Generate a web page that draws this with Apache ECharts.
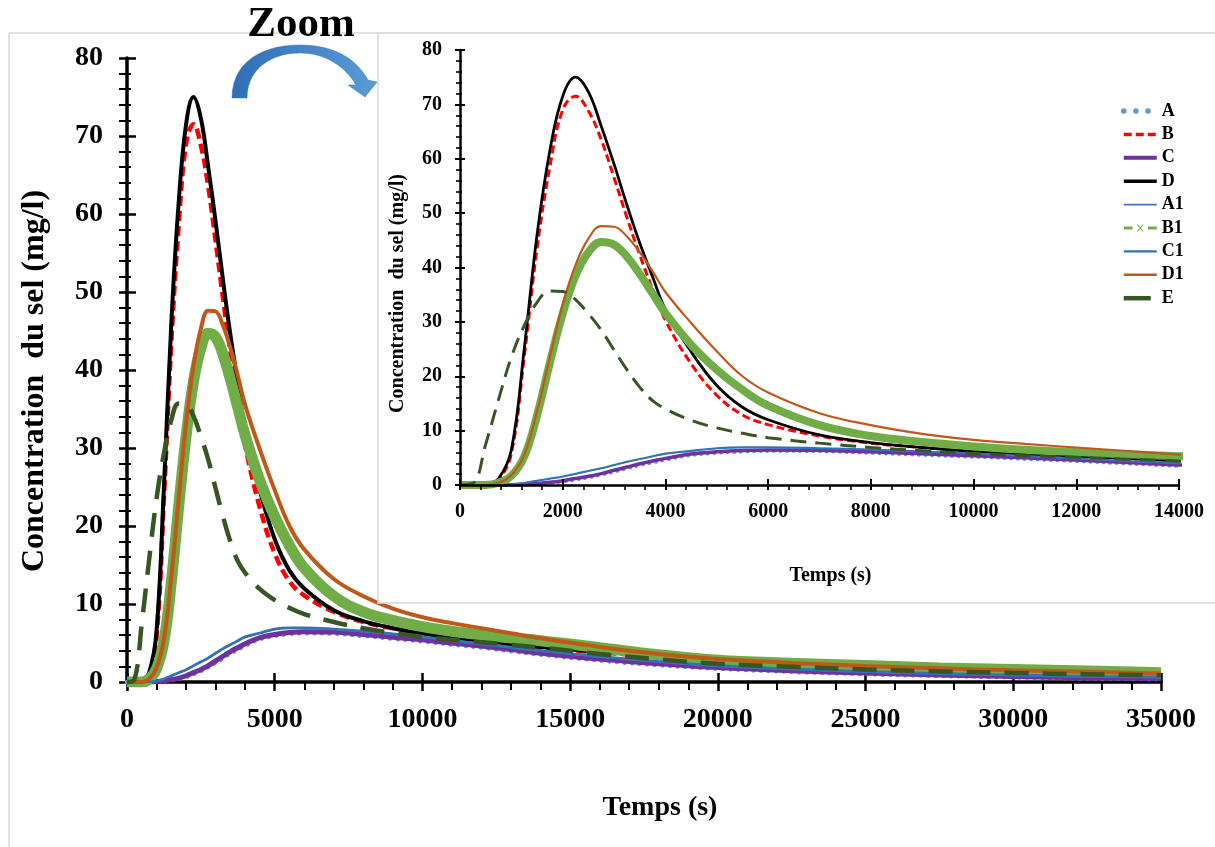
<!DOCTYPE html>
<html><head><meta charset="utf-8">
<script src="https://cdn.jsdelivr.net/npm/echarts@6/dist/echarts.min.js"></script>
<style>html,body{margin:0;padding:0;background:#fff}#c{width:1215px;height:847px}</style>
</head><body><div id="c"></div>
<script>
// ---- data ----
const time = [0,250,500,750,1000,1250,1500,1750,2000,2250,2500,2750,3000,3250,3500,3750,4000,4500,5000,5500,6000,7000,8000,9000,10000,11000,12000,13000,14000,16000,18000,20000,22500,25000,27500,30000,32500,35000];
const serieA  = [0,0,0,0,0.03,0.1,0.22,0.4,0.65,1.0,1.4,1.9,2.45,3.05,3.65,4.15,4.65,5.5,5.9,6.15,6.25,6.2,5.9,5.55,5.2,4.8,4.4,3.95,3.5,2.75,2.15,1.7,1.3,1.0,0.78,0.6,0.45,0.35];
const serieB  = [0,0,0.1,1.0,5.8,23.5,43.5,58.5,69,71.5,68.8,63.5,56.5,49.2,42.3,36,30.3,22.3,16.5,12.9,11.1,9.0,7.7,6.9,6.3,5.8,5.35,4.85,4.4,3.8,3.25,2.7,2.2,1.8,1.45,1.2,1.0,0.85];
const serieC  = [0,0,0,0,0.05,0.15,0.3,0.5,0.8,1.2,1.6,2.1,2.7,3.3,3.9,4.4,4.9,5.7,6.1,6.35,6.45,6.4,6.1,5.75,5.4,5.0,4.6,4.15,3.7,2.95,2.35,1.85,1.45,1.15,0.9,0.7,0.55,0.45];
const serieD  = [0,0,0.1,1.2,6.5,25,46,61.5,71.5,75,72.3,66,59,51.5,44.5,38.3,32.3,24.5,18.3,14.3,12.0,9.2,7.8,6.9,6.2,5.7,5.3,4.9,4.5,3.9,3.3,2.75,2.25,1.85,1.5,1.25,1.05,0.9];
const serieA1 = [0,0,0,0.02,0.1,0.35,0.75,1.1,1.5,2.0,2.5,3.0,3.6,4.2,4.7,5.2,5.7,6.2,6.7,6.85,6.85,6.7,6.45,6.1,5.7,5.25,4.8,4.35,3.95,3.2,2.55,2.0,1.6,1.25,1.0,0.8,0.65,0.55];
const serieB1 = [0,0,0,0.4,1.7,5.2,12.8,22.5,31.5,38.5,42.8,44.7,44.2,42,38.8,35.2,31.6,25.8,21.2,17.5,14.6,11.0,9.0,7.9,7.1,6.5,6.05,5.65,5.3,4.4,3.5,2.8,2.4,2.1,1.8,1.6,1.4,1.2];
const serieC1 = [0,0,0,0.02,0.1,0.4,0.8,1.2,1.6,2.1,2.6,3.1,3.7,4.3,4.8,5.3,5.8,6.3,6.8,6.95,6.95,6.8,6.55,6.2,5.8,5.35,4.9,4.45,4.05,3.3,2.65,2.1,1.7,1.35,1.1,0.9,0.75,0.65];
const serieD1 = [0,0,0,0.4,1.8,5.5,13.5,23.5,33.2,40.5,45.3,47.6,47.5,45.7,42.8,39.3,35.5,29.8,24.6,20.0,17.0,13.2,11.0,9.4,8.3,7.55,6.9,6.25,5.6,4.5,3.6,2.95,2.45,2.05,1.75,1.5,1.3,1.1];
const serieE  = [0,0.3,7.5,15.7,23.5,29.3,33.6,35.7,35.6,34.1,31.5,28.5,24.8,21.2,18.0,15.5,14.0,11.9,10.5,9.5,8.7,7.7,6.9,6.3,5.8,5.4,5.1,4.75,4.4,3.6,2.9,2.35,1.95,1.6,1.35,1.15,1.0,0.85];
const seriesNames = ['A','B','C','D','A1','B1','C1','D1','E'];
const seriesValues = [serieA, serieB, serieC, serieD, serieA1, serieB1, serieC1, serieD1, serieE];
const yTitle = 'Concentration  du sel (mg/l)';
const xTitle = 'Temps (s)';

// ---- styles ----
const SERIF = '"Liberation Serif", "Times New Roman", serif';
const colors = {A:'#5B9BD5',B:'#FF0000',C:'#7030A0',D:'#000000',A1:'#4472C4',B1:'#70AD47',C1:'#2E75B6',D1:'#C0581A',E:'#375623'};
const insetStyle = {
  A:{width:4,type:[0.1,6.5],cap:'round'}, B:{width:3,type:[8,4]}, C:{width:3.5}, D:{width:2.8},
  A1:{width:1.3}, B1:{width:8}, C1:{width:1.8}, D1:{width:2.2}, E:{width:3,type:[16,9]}
};
const mainStyle = {
  A:{width:4.5,type:[0.1,7.5],cap:'round'}, B:{width:4.5,type:[10,5]}, C:{width:5}, D:{width:4},
  A1:{width:1.5}, B1:{width:11}, C1:{width:2.5}, D1:{width:4}, E:{width:4.5,type:[24,14]}
};
const legendLine = {
  A:{width:5.5,type:[0.1,12],cap:'round'}, B:{width:3.5,type:[8,4]}, C:{width:4}, D:{width:3.5},
  A1:{width:1.8}, C1:{width:2.2}, D1:{width:2.5}, E:{width:4.5,type:[27,7]}
};
const pairs = arr => time.map((t,i)=>[t, arr[i]]);

function makeSeries(idx, styles, z){
  return seriesNames.map((n,i)=>({
    name:n, type:'line', xAxisIndex:idx, yAxisIndex:idx, z:z,
    data:pairs(seriesValues[i]), showSymbol:false, symbol:'none',
    smooth:0.4, animation:false, silent:true,
    lineStyle:Object.assign({color:colors[n]}, styles[n]),
    itemStyle:{color:colors[n]}
  }));
}

const boldText = (size)=>({fontFamily:SERIF,fontWeight:'bold',fontSize:size,color:'#000'});

function axisPair(kind, grid, min, max, interval, o){
  const main = {
    type:'value', gridIndex:grid, min:min, max:max, interval:interval, z:o.z,
    axisLine:{show:true,onZero:false,lineStyle:{color:'#000',width:o.lw}},
    axisTick:{show:true,inside:false,length:o.tOut,lineStyle:{color:'#000',width:o.tw}},
    minorTick:{show:true,splitNumber:5,length:o.mOut,lineStyle:{color:'#000',width:o.tw*0.8}},
    splitLine:{show:false},
    axisLabel:Object.assign({margin:o.margin, formatter:v=>String(v)}, boldText(o.fs)),
    name:o.name, nameLocation:'middle', nameGap:o.nameGap,
    nameTextStyle:Object.assign({padding:o.namePad}, boldText(o.nfs))
  };
  const dup = {
    type:'value', gridIndex:grid, min:min, max:max, interval:interval, z:o.z,
    axisLine:{show:false,onZero:false},
    axisTick:{show:true,inside:true,length:o.tIn,lineStyle:{color:'#000',width:o.tw}},
    minorTick:{show:o.mIn>0,splitNumber:5,length:o.mIn,lineStyle:{color:'#000',width:o.tw*0.8}},
    splitLine:{show:false}, axisLabel:{show:false}
  };
  if(kind==='x'){ main.position='bottom'; dup.position='bottom'; }
  else { main.position='left'; dup.position='left'; }
  return [main, dup];
}

const xAxes = [].concat(
  axisPair('x',0,0,35000,5000,{z:1,lw:3.5,tw:2.5,tOut:9,mOut:8,tIn:9,mIn:0,margin:24,fs:28,name:xTitle,nameGap:112,namePad:[0,0,0,32],nfs:28}),
  axisPair('x',1,0,14000,2000,{z:6,lw:2.5,tw:2,tOut:5,mOut:5,tIn:6,mIn:0,margin:17,fs:20,name:xTitle,nameGap:81,namePad:[0,0,0,22],nfs:20})
);
const yAxes = [].concat(
  axisPair('y',0,0,80,10,{z:1,lw:3.5,tw:2.5,tOut:8,mOut:8,tIn:9,mIn:4,margin:24,fs:28,name:yTitle,nameGap:76,namePad:[0,22,0,0],nfs:32}),
  axisPair('y',1,0,80,10,{z:6,lw:2.5,tw:2,tOut:5,mOut:4,tIn:5,mIn:2,margin:18,fs:20,name:yTitle,nameGap:52,namePad:[0,52,0,0],nfs:20})
);
const series = [].concat(makeSeries(2, insetStyle, 5), makeSeries(0, mainStyle, 2));
series.push({type:'line',xAxisIndex:1,yAxisIndex:1,data:[],silent:true});
series.push({type:'line',xAxisIndex:3,yAxisIndex:3,data:[],silent:true});

const b1Icon = 'path://M0,5.5L9,5.5L9,8.5L0,8.5Z M25,5.5L34,5.5L34,8.5L25,8.5Z M13.5,3.5L14.8,3.5L20.5,10.5L19.2,10.5Z M19.2,3.5L20.5,3.5L14.8,10.5L13.5,10.5Z';

function bez(p0,p1,p2,p3,n){
  const out=[];
  for(let i=0;i<=n;i++){const t=i/n,u=1-t;
    out.push([u*u*u*p0[0]+3*u*u*t*p1[0]+3*u*t*t*p2[0]+t*t*t*p3[0], u*u*u*p0[1]+3*u*u*t*p1[1]+3*u*t*t*p2[1]+t*t*t*p3[1]]);}
  return out;
}
const arrowPts = [].concat(
  bez([232,98],[232,62],[262,45],[300,45],14),
  bez([300,45],[333,45],[356,58],[368,80],14),
  [[377,82],[365,97],[348,85],[356,85]],
  bez([356,85],[345,66],[325,53],[300,53],14),
  bez([300,53],[270,53],[247,70],[247,98],14)
);

const chart = echarts.init(document.getElementById('c'), null, {renderer:'canvas'});
chart.setOption({
  animation:false,
  backgroundColor:'#fff',
  grid:[
    {left:127, right:54, top:58, bottom:165},
    {left:460, right:36, top:50, bottom:362}
  ],
  xAxis:xAxes,
  yAxis:yAxes,
  legend:{
    left:1116, top:97, orient:'vertical', itemWidth:33, itemHeight:14, itemGap:5.4,
    selectedMode:false, z:8, itemStyle:{opacity:0},
    textStyle:Object.assign({lineHeight:18}, boldText(18)),
    data:seriesNames.map(n=> n==='B1'
      ? {name:'B1', icon:b1Icon, itemStyle:{opacity:1,color:colors.B1}}
      : {name:n, lineStyle:legendLine[n]})
  },
  graphic:[
    {type:'rect', silent:true, z:0, shape:{x:9,y:33,width:1230,height:830}, style:{fill:'none',stroke:'#D9D9D9',lineWidth:1.5}},
    {type:'rect', silent:true, z:3, shape:{x:378,y:33,width:860,height:570}, style:{fill:'#fff',stroke:'#D9D9D9',lineWidth:1.5}},
    {type:'text', silent:true, z:10, x:301, y:25, style:{text:'Zoom', font:'bold 43px "Liberation Serif", serif', fill:'#000', textAlign:'center', textVerticalAlign:'middle'}},
    {type:'polygon', silent:true, z:10, shape:{points:arrowPts},
      style:{fill:{type:'linear',x:0,y:0,x2:1,y2:0,colorStops:[{offset:0,color:'#2F6EB5'},{offset:1,color:'#5B9BD5'}]}, stroke:'#3A78B8', lineWidth:0.5}}
  ],
  series:series
});
</script></body></html>
